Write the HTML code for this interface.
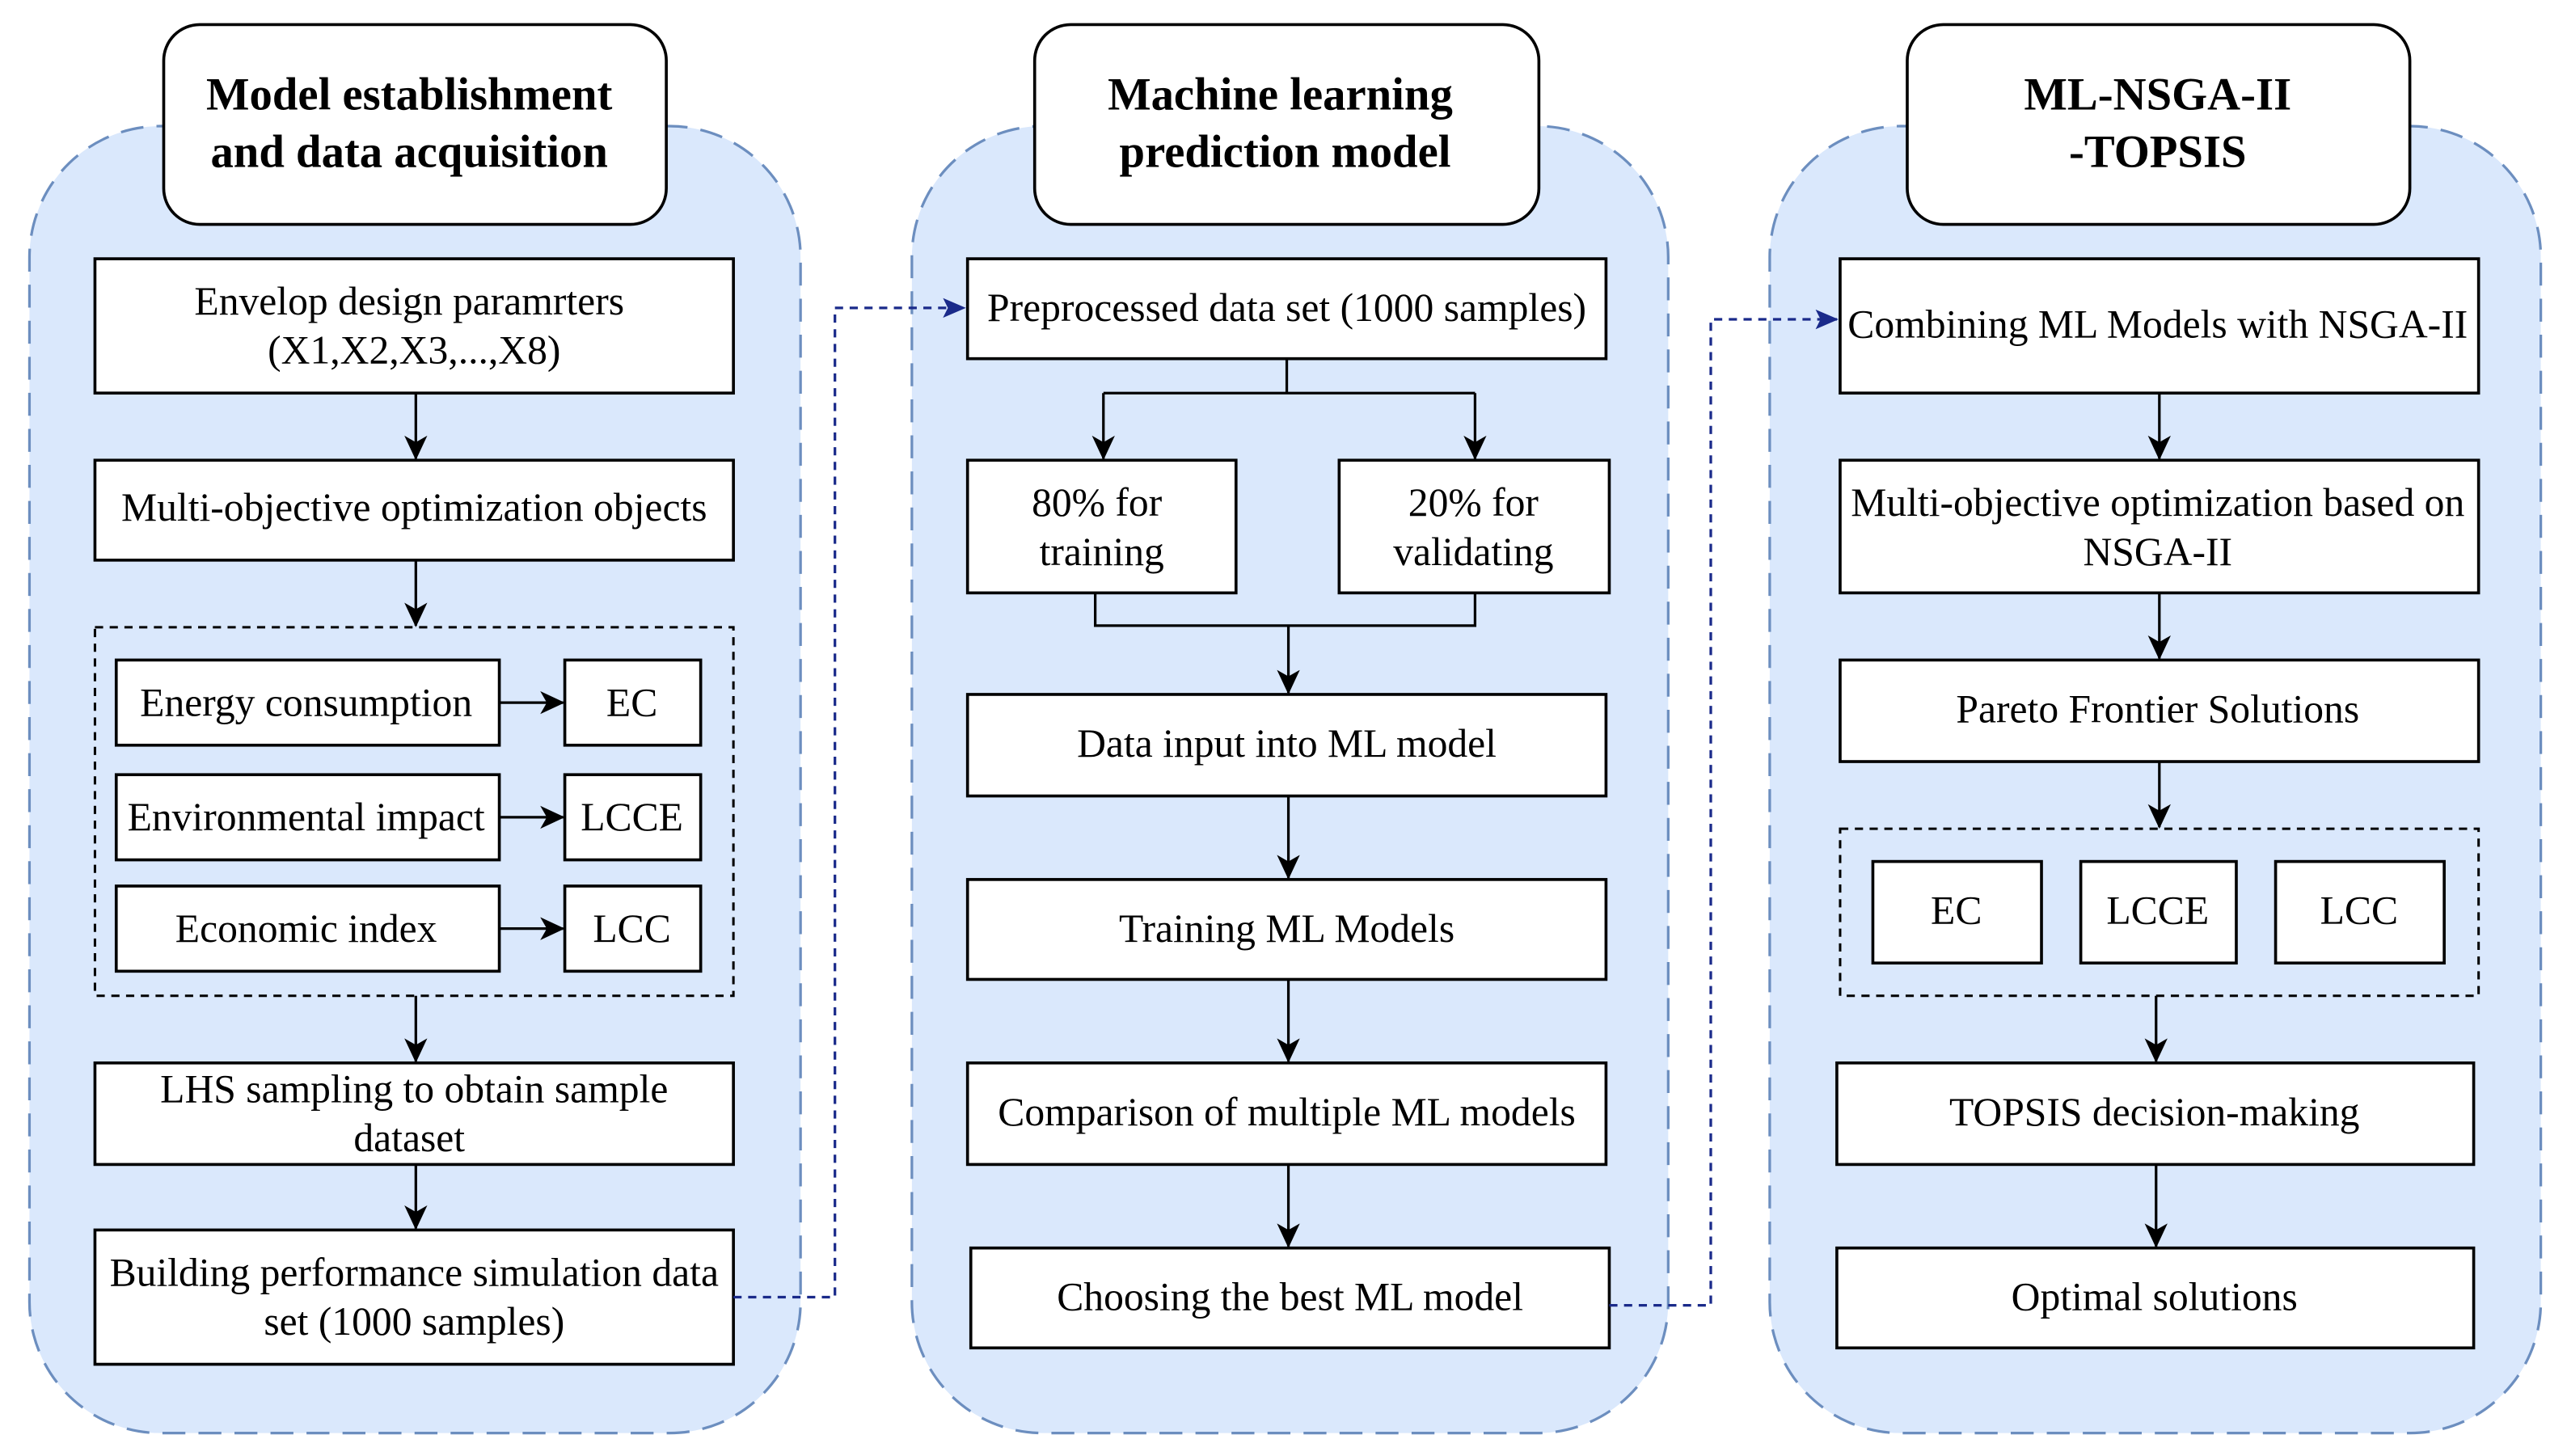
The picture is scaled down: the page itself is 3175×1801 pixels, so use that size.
<!DOCTYPE html>
<html><head><meta charset="utf-8"><style>html,body{margin:0;padding:0;background:#fff}svg{display:block}</style></head>
<body>
<svg width="3175" height="1801" viewBox="0 0 1568 889" preserveAspectRatio="none" xmlns="http://www.w3.org/2000/svg" font-family="Liberation Serif, serif">
<defs>
<marker id="a" markerWidth="16" markerHeight="16" refX="14" refY="7" orient="auto" markerUnits="userSpaceOnUse"><path d="M0,0 L15,7 L0,14 L4,7 z" fill="#000"/></marker>
<marker id="b" markerWidth="16" markerHeight="16" refX="13" refY="6" orient="auto" markerUnits="userSpaceOnUse"><path d="M0,0 L14,6 L0,12 L3,6 z" fill="#1a2a8a"/></marker>
</defs>
<g fill="#dae8fc" stroke="#6c8ebf" stroke-width="1.6" stroke-dasharray="14,8">
<rect x="18" y="77" width="471" height="798" rx="80"/>
<rect x="557" y="77" width="462" height="798" rx="80"/>
<rect x="1081" y="77" width="471" height="798" rx="80"/>
</g>
<g fill="#fff" stroke="#000" stroke-width="1.8">
<rect x="100" y="15" width="307" height="122" rx="22"/>
<rect x="632" y="15" width="308" height="122" rx="22"/>
<rect x="1165" y="15" width="307" height="122" rx="22"/>
</g>
<g font-weight="bold" font-size="28" text-anchor="middle">
<text x="250" y="67">Model establishment</text><text x="250" y="102">and data acquisition</text>
<text x="782" y="67">Machine learning</text><text x="785" y="102">prediction model</text>
<text x="1318" y="67">ML-NSGA-II</text><text x="1318" y="102">-TOPSIS</text>
</g>
<g fill="none" stroke="#000" stroke-width="1.5" stroke-dasharray="5,4">
<rect x="58" y="383" width="390" height="225"/>
<rect x="1124" y="506" width="390" height="102"/>
</g>
<g fill="#fff" stroke="#000" stroke-width="1.8">
<rect x="58" y="158" width="390" height="82"/>
<rect x="58" y="281" width="390" height="61"/>
<rect x="71" y="403" width="234" height="52"/><rect x="345" y="403" width="83" height="52"/>
<rect x="71" y="473" width="234" height="52"/><rect x="345" y="473" width="83" height="52"/>
<rect x="71" y="541" width="234" height="52"/><rect x="345" y="541" width="83" height="52"/>
<rect x="58" y="649" width="390" height="62"/>
<rect x="58" y="751" width="390" height="82"/>
<rect x="591" y="158" width="390" height="61"/>
<rect x="591" y="281" width="164" height="81"/>
<rect x="818" y="281" width="165" height="81"/>
<rect x="591" y="424" width="390" height="62"/>
<rect x="591" y="537" width="390" height="61"/>
<rect x="591" y="649" width="390" height="62"/>
<rect x="593" y="762" width="390" height="61"/>
<rect x="1124" y="158" width="390" height="82"/>
<rect x="1124" y="281" width="390" height="81"/>
<rect x="1124" y="403" width="390" height="62"/>
<rect x="1144" y="526" width="103" height="62"/><rect x="1271" y="526" width="95" height="62"/><rect x="1390" y="526" width="103" height="62"/>
<rect x="1122" y="649" width="389" height="62"/>
<rect x="1122" y="762" width="389" height="61"/>
</g>
<g font-size="24.5" text-anchor="middle">
<text x="250" y="192">Envelop design paramrters</text><text x="253" y="222">(X1,X2,X3,...,X8)</text>
<text x="253" y="318">Multi-objective optimization objects</text>
<text x="187" y="437">Energy consumption</text><text x="386" y="437">EC</text>
<text x="187" y="507">Environmental impact</text><text x="386" y="507">LCCE</text>
<text x="187" y="575">Economic index</text><text x="386" y="575">LCC</text>
<text x="253" y="673">LHS sampling to obtain sample</text><text x="250" y="703">dataset</text>
<text x="253" y="785">Building performance simulation data</text><text x="253" y="815">set (1000 samples)</text>
<text x="786" y="196">Preprocessed data set (1000 samples)</text>
<text x="670" y="315">80% for</text><text x="673" y="345">training</text>
<text x="900" y="315">20% for</text><text x="900" y="345">validating</text>
<text x="786" y="462">Data input into ML model</text>
<text x="786" y="575">Training ML Models</text>
<text x="786" y="687">Comparison of multiple ML models</text>
<text x="788" y="800">Choosing the best ML model</text>
<text x="1318" y="206">Combining ML Models with NSGA-II</text>
<text x="1318" y="315">Multi-objective optimization based on</text><text x="1318" y="345">NSGA-II</text>
<text x="1318" y="441">Pareto Frontier Solutions</text>
<text x="1195" y="564">EC</text><text x="1318" y="564">LCCE</text><text x="1441" y="564">LCC</text>
<text x="1316" y="687">TOPSIS decision-making</text>
<text x="1316" y="800">Optimal solutions</text>
</g>
<g fill="none" stroke="#000" stroke-width="1.6" marker-end="url(#a)">
<path d="M254 240V280"/><path d="M254 342V382"/>
<path d="M305 429H344"/><path d="M305 499H344"/><path d="M305 567H344"/>
<path d="M254 608V648"/><path d="M254 711V750"/>
<path d="M674 240V280"/><path d="M901 240V280"/>
<path d="M787 382V423"/>
<path d="M787 486V536"/><path d="M787 598V648"/><path d="M787 711V761"/>
<path d="M1319 240V280"/><path d="M1319 362V402"/><path d="M1319 465V505"/>
<path d="M1317 608V648"/><path d="M1317 711V761"/>
</g>
<g fill="none" stroke="#000" stroke-width="1.6">
<path d="M786 219V240H674M786 240H901"/>
<path d="M669 362V382H901V362"/>
</g>
<g fill="none" stroke="#1a2a8a" stroke-width="1.6" stroke-dasharray="5,4">
<path d="M448 792H510V188H589" marker-end="url(#b)"/>
<path d="M983 797H1045V195H1122" marker-end="url(#b)"/>
</g>
</svg>
</body></html>
